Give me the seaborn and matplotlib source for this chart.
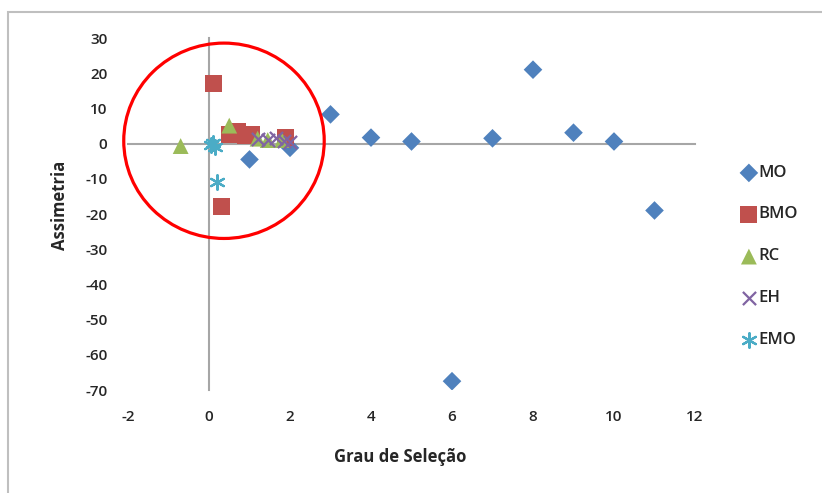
import numpy as np
import pandas as pd
import matplotlib
matplotlib.use('Agg')
import matplotlib.pyplot as plt
from matplotlib.patches import Ellipse, Rectangle
import seaborn as sns

sns.set_style('white')
plt.rcParams['font.family'] = ['Open Sans', 'DejaVu Sans']
plt.rcParams['axes.unicode_minus'] = False

# data (Grau de Selecao, Assimetria)
mo_x = [1, 2, 3, 4, 5, 6, 7, 8, 9, 10, 11]
mo_y = [-4.5, -1.2, 8.3, 1.7, 0.6, -67.5, 1.5, 21, 3.1, 0.6, -19]

bmo_x = [0.1, 0.3, 0.5, 0.7, 0.9, 1.05, 1.9]
bmo_y = [17, -17.8, 2.5, 3.5, 2.2, 2.6, 1.6]

rc_x = [-0.7, 0.5, 1.2, 1.45, 1.8]
rc_y = [-0.7, 5.1, 1.4, 1.0, 1.0]

eh_x = [1.2, 1.45, 1.65, 1.85, 2.0]
eh_y = [1.4, 1.0, 1.5, 0.6, 0.4]

emo_x = [0.05, 0.1, 0.15, 0.2]
emo_y = [-0.5, 0.3, -1.0, -10.8]

series = ['MO', 'BMO', 'RC', 'EH', 'EMO']
xs = [mo_x, bmo_x, rc_x, eh_x, emo_x]
ys = [mo_y, bmo_y, rc_y, eh_y, emo_y]
colors = ['#4F81BD', '#C0504D', '#9BBB59', '#8064A2', '#4BACC6']
markers = ['D', 's', '^', 'x', (6, 2, 0)]
sizes = [90, 150, 130, 90, 110]

fig = plt.figure(figsize=(8.22, 4.93), dpi=100)
ax = fig.add_axes([128 / 822, 1 - 390 / 493, (695 - 128) / 822, (390 - 38) / 493])

for name, x, y, c, m, s in zip(series, xs, ys, colors, markers, sizes):
    df = pd.DataFrame({'x': x, 'y': y})
    if m in ('x', (6, 2, 0)):
        sns.scatterplot(data=df, x='x', y='y', ax=ax, marker=m, s=s, color=c,
                        linewidth=1.6, label=name, zorder=3)
    else:
        sns.scatterplot(data=df, x='x', y='y', ax=ax, marker=m, s=s, color=c,
                        edgecolor='none', label=name, zorder=3)

ax.set_xlim(-2, 12)
ax.set_ylim(-70, 30)
ax.set_xticks(np.arange(-2, 13, 2))
ax.set_yticks(np.arange(-70, 31, 10))

# axes cross at zero like the excel chart
for side in ['top', 'right']:
    ax.spines[side].set_visible(False)
ax.spines['left'].set_position(('data', 0))
ax.spines['bottom'].set_position(('data', 0))
for side in ['left', 'bottom']:
    ax.spines[side].set_color('#A6A6A6')
    ax.spines[side].set_linewidth(1.5)
ax.tick_params(axis='y', direction='out', length=4, width=1, color='#A6A6A6',
               pad=69, labelsize=11)
ax.tick_params(axis='x', direction='out', length=4, width=1, color='#A6A6A6',
               pad=188, labelsize=11)
for lab in ax.get_xticklabels() + ax.get_yticklabels():
    lab.set_fontweight('semibold')

ax.set_xlabel('')
ax.set_ylabel('')
fig.text(400 / 822, 1 - 457 / 493, 'Grau de Seleção', ha='center', va='center',
         fontsize=12, fontweight='bold')
fig.text(60 / 822, 1 - 205 / 493, 'Assimetria', ha='center', va='center',
         rotation=90, fontsize=12, fontweight='bold')

# red highlight circle
ax.add_patch(Ellipse((0.37, 0.8), 4.95, 55.5, fill=False, edgecolor='#FF0000',
                     linewidth=2.3, zorder=4, clip_on=False))

leg = ax.legend(loc='upper left', bbox_to_anchor=(735 / 822, 1 - 159 / 493),
                bbox_transform=fig.transFigure, frameon=False, labelspacing=1.86,
                handletextpad=0.1, handlelength=1.2, borderaxespad=0)
for t in leg.get_texts():
    t.set_fontsize(12)
    t.set_fontweight('semibold')

# outer chart border
fig.patches.append(Rectangle((8 / 822, -0.1), 1.1, 1.1 - 12 / 493, fill=False,
                             edgecolor='#BFBFBF', linewidth=1.5,
                             transform=fig.transFigure, figure=fig))

fig.savefig('out.png', dpi=100)
